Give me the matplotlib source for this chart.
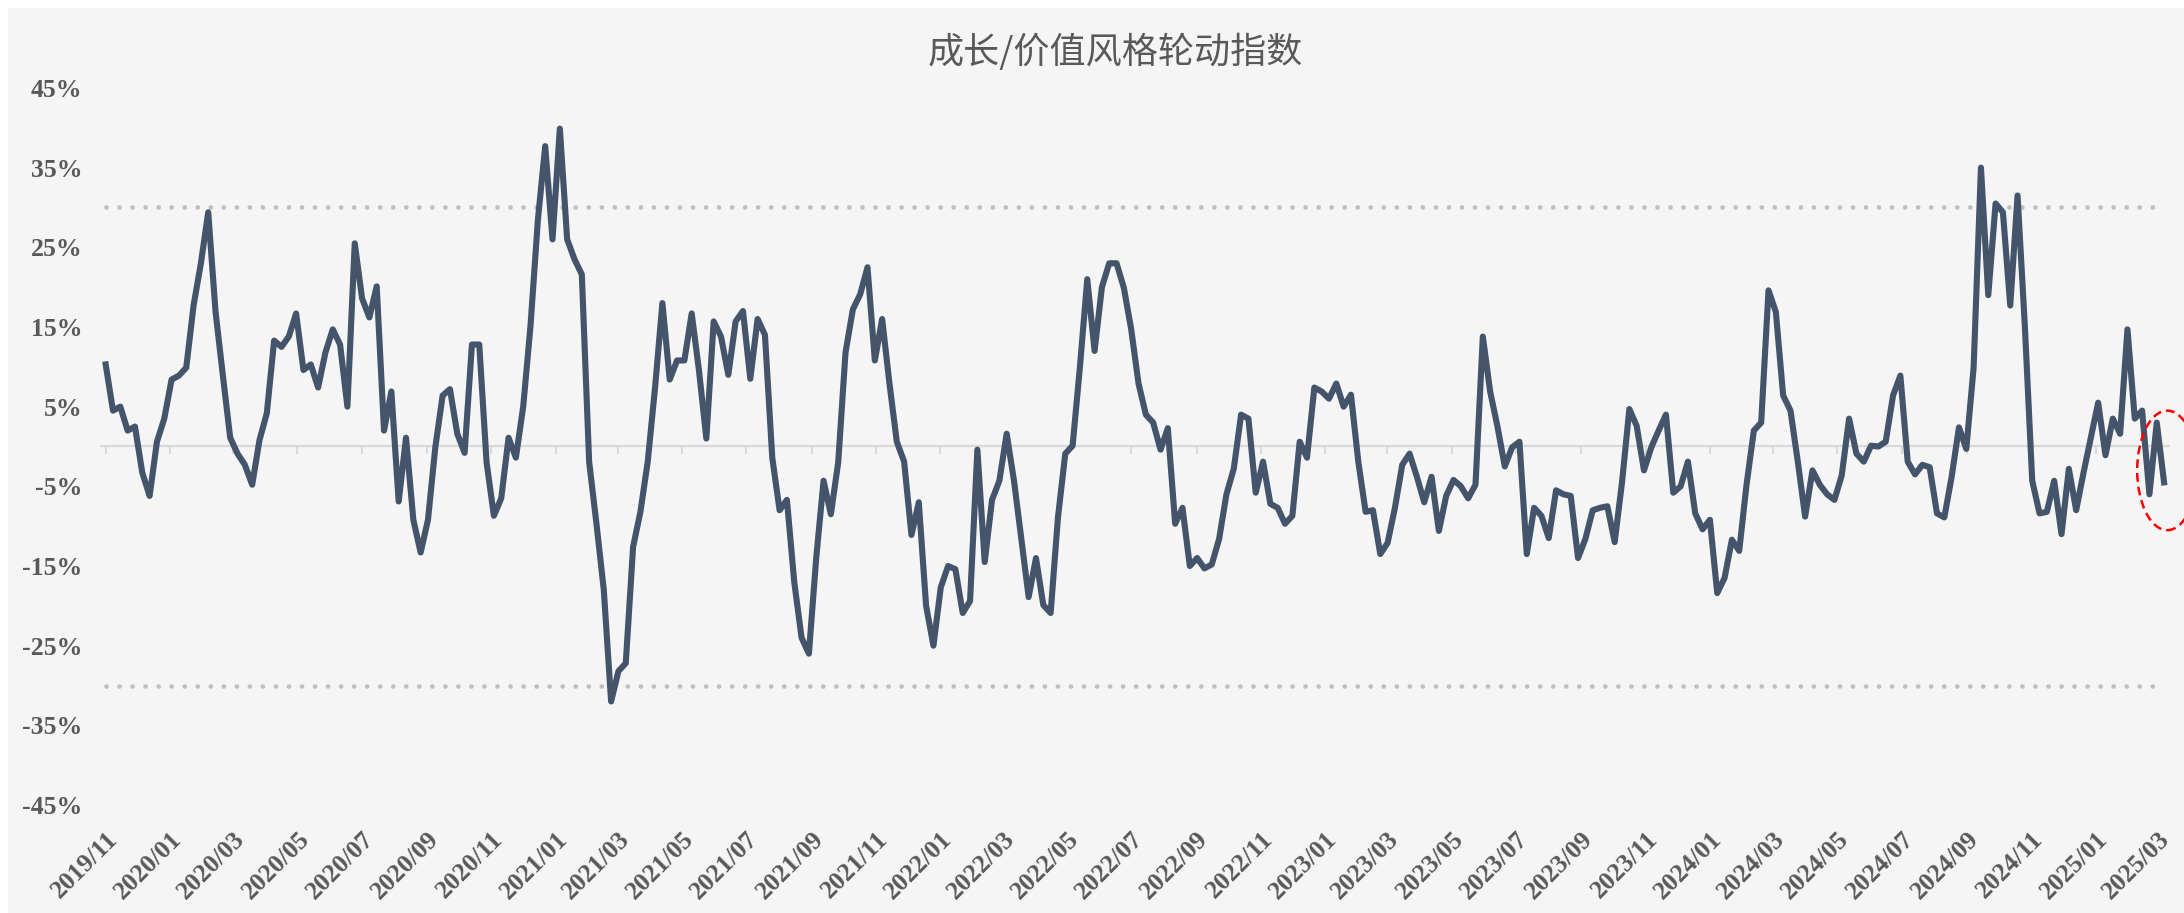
import matplotlib
matplotlib.use('Agg')
import matplotlib.pyplot as plt
import matplotlib.dates as mdates
from matplotlib.patches import Ellipse, Rectangle
import numpy as np
import pandas as pd

# weekly readings of the rotation index (%), 2019/11 -> 2025/03
vals_2019_2020 = [10.3, 4.5, 5.0, 2.0, 2.5, -3.3, -6.2, 0.6, 3.5, 8.4,
                  8.9, 9.9, 17.7, 23.0, 29.4, 16.9, 8.9, 1.1, -0.9, -2.3,
                  -4.8, 0.8, 4.2, 13.3, 12.5, 13.8, 16.7, 9.6, 10.3, 7.4,
                  11.8, 14.7, 12.8, 5.0, 25.5, 18.6, 16.2, 20.1, 2.0, 6.9,
                  -6.9, 1.1, -9.2, -13.3, -9.2, -0.1, 6.4, 7.2, 1.6, -0.8,
                  12.8, 12.8, -2.0, -8.7, -6.5, 1.1, -1.4, 5.0, 15.2, 28.4]
vals_2021 = [37.7, 26.0, 39.9, 26.0, 23.5, 21.6, -1.9, -9.7, -18.0, -32.0,
             -28.2, -27.2, -12.6, -8.2, -1.9, 7.4, 18.0, 8.4, 10.8, 10.8,
             16.7, 9.5, 1.0, 15.7, 13.8, 9.0, 15.7, 17.0, 8.5, 16.0,
             14.0, -1.4, -8.0, -6.7, -17.0, -24.0, -26.0, -14.0, -4.3, -8.5,
             -2.0, 11.8, 17.2, 19.1, 22.5, 10.8, 16.0, 7.9, 0.6, -1.9,
             -11.1, -7.0]
vals_2022 = [-20.0, -25.0, -17.7, -15.0, -15.4, -20.9, -19.4, -0.4, -14.5, -6.7,
             -4.3, 1.6, -4.3, -11.6, -18.9, -14.0, -19.9, -20.9, -8.9, -0.9,
             0.1, 10.0, 21.0, 12.0, 20.0, 23.0, 23.0, 19.9, 14.7, 7.9,
             4.0, 3.0, -0.4, 2.3, -9.7, -7.7, -15.0, -14.0, -15.3, -14.8,
             -11.6, -6.0, -2.8, 4.0, 3.5, -5.8, -1.9, -7.2, -7.7, -9.7,
             -8.7, 0.6]
vals_2023 = [-1.4, 7.4, 6.9, 6.0, 7.9, 5.0, 6.5, -1.9, -8.2, -8.0,
             -13.5, -12.1, -7.7, -2.3, -0.9, -3.8, -7.0, -3.8, -10.6, -6.2,
             -4.2, -5.0, -6.5, -4.8, 13.8, 6.9, 2.5, -2.5, -0.1, 0.6,
             -13.5, -7.7, -8.7, -11.5, -5.5, -6.0, -6.2, -14.0, -11.6, -8.0,
             -7.7, -7.5, -12.0, -4.5, 4.7, 2.6, -3.0, -0.1, 2.0, 4.0,
             -5.8, -5.0]
vals_2024 = [-1.9, -8.4, -10.4, -9.2, -18.4, -16.5, -11.7, -13.1, -4.8, 2.0,
             3.0, 19.6, 16.9, 6.4, 4.5, -1.9, -8.8, -3.0, -4.8, -6.0,
             -6.7, -3.6, 3.5, -0.9, -1.9, 0.1, 0.0, 0.6, 6.4, 8.9,
             -1.9, -3.5, -2.3, -2.6, -8.4, -8.9, -3.8, 2.4, -0.3, 9.9,
             35.0, 19.0, 30.5, 29.4, 17.7, 31.5, 15.0, -4.3, -8.4, -8.2,
             -4.3, -11.0]
vals_2025 = [-2.8, -8.0, -3.3, 1.1, 5.5, -1.1, 3.5, 1.6, 14.7, 3.5,
             4.5, -6.0, 3.0, -4.5]

values = np.array(vals_2019_2020 + vals_2021 + vals_2022 + vals_2023 + vals_2024 + vals_2025)
dates = pd.date_range('2019-11-01', '2025-03-07', periods=len(values))

tick_dates = pd.date_range('2019-11-01', '2025-03-01', freq='2MS')
tick_labels = [d.strftime('%Y/%m') for d in tick_dates]
y_ticks = [45, 35, 25, 15, 5, -5, -15, -25, -35, -45]
upper_band, lower_band = 30, -30

title = '成长/价值风格轮动指数'
text_color = '#595959'
line_color = '#44546a'

W, H = 2184, 913
fig = plt.figure(figsize=(W / 100, H / 100), dpi=100)
fig.patch.set_facecolor('white')
fig.add_artist(Rectangle((8 / W, 0), 1, 1 - 8 / H, transform=fig.transFigure,
                         facecolor='#f5f5f5', edgecolor='none', zorder=-10))

ax = fig.add_axes([100.4 / W, 1 - 805 / H, 2070 / W, 717 / H])
ax.set_facecolor('none')

ax.axhline(0, color='#d9d9d9', lw=1.6, zorder=1)
ax.hlines([upper_band, lower_band], dates[0], dates[-1], color='#bfbfbf', lw=3.4,
          linestyles=(0, (0.01, 2.75)), capstyle='round', zorder=1)
ax.plot(dates, values, color=line_color, lw=4.4, solid_joinstyle='round', zorder=3)

ax.set_xlim(dates[0] - pd.Timedelta(days=5), dates[-1] + pd.Timedelta(days=6))
ax.set_ylim(-45, 45)

serif = {'family': 'Liberation Serif', 'weight': 'bold', 'size': 18.5}
ax.set_yticks(y_ticks)
ax.set_yticklabels([f'{v}%' for v in y_ticks], fontdict=serif, color=text_color)
ax.set_xticks(tick_dates)
ax.set_xticklabels(tick_labels, fontdict=serif, color=text_color, rotation=45,
                   ha='right', va='top', rotation_mode='anchor')
ax.tick_params(axis='y', length=0, pad=13)
ax.tick_params(axis='x', length=0, pad=16)
for s in ax.spines.values():
    s.set_visible(False)

# small tick marks hanging from the zero line
sec = ax.secondary_xaxis(0.5)
sec.set_xticks(tick_dates)
sec.tick_params(axis='x', direction='in', length=6, width=1.5, color='#d9d9d9',
                labeltop=False, labelbottom=False)
for s in sec.spines.values():
    s.set_visible(False)

# red dashed ellipse marking the latest readings
recent = values[-3:]
cx = mdates.date2num(dates[-1]) + 3
cy = (recent.max() + recent.min()) / 2 - 1.5
ax.add_patch(Ellipse((cx, cy), 57, 15, fill=False, edgecolor='#ff0000', lw=1.8,
                     linestyle=(0, (3.5, 2)), clip_on=False, zorder=4))

fig.text(1115 / W, 1 - 52 / H, title, ha='center', va='center', fontsize=26,
         color=text_color, family=['Noto Sans CJK SC', 'DejaVu Sans'])

fig.savefig('out.png', dpi=100, facecolor=fig.get_facecolor())
